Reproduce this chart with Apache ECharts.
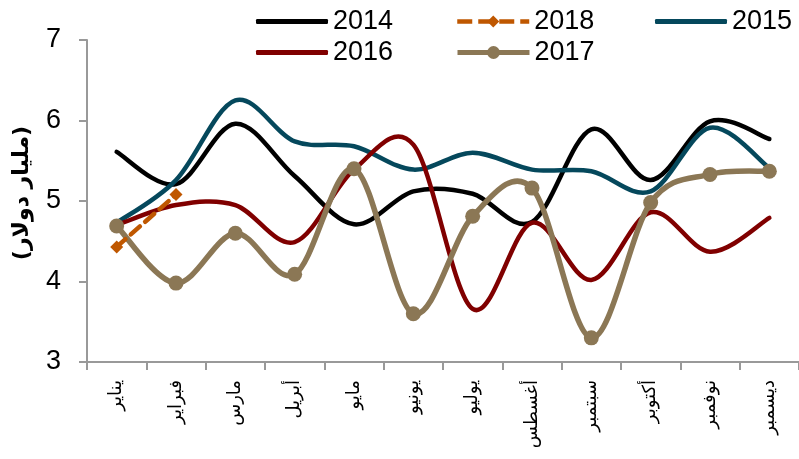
<!DOCTYPE html>
<html>
<head>
<meta charset="utf-8">
<script src="https://cdn.jsdelivr.net/npm/echarts@6/dist/echarts.min.js"></script>
<style>
  html, body { margin: 0; padding: 0; background: #ffffff; }
  #chart { width: 799px; height: 459px; }
</style>
</head>
<body>
<div id="chart"></div>
<script>
// Monthly values, billion dollars
const months = ['يناير', 'فبراير', 'مارس', 'أبريل', 'مايو', 'يونيو', 'يوليو', 'أغسطس', 'سبتمبر', 'أكتوبر', 'نوفمبر', 'ديسمبر'];
const v2014 = [5.61, 5.21, 5.96, 5.31, 4.71, 5.12, 5.09, 4.74, 5.89, 5.26, 5.99, 5.77];
const v2015 = [4.73, 5.26, 6.25, 5.74, 5.68, 5.39, 5.60, 5.39, 5.37, 5.12, 5.91, 5.41];
const v2016 = [4.70, 4.95, 4.95, 4.49, 5.39, 5.70, 3.66, 4.73, 4.02, 4.86, 4.37, 4.79];
const v2017 = [4.69, 3.98, 4.60, 4.09, 5.40, 3.60, 4.81, 5.16, 3.30, 4.98, 5.33, 5.37];
const v2018 = [4.43, 5.08];
const yTicks = [3, 4, 5, 6, 7];

const colors = { '2014': '#000000', '2015': '#05485c', '2016': '#800000', '2017': '#8b7755', '2018': '#bf5700' };

const latin = '"Liberation Sans", Arial, sans-serif';
const arabic = '"DejaVu Sans", sans-serif';

const chart = echarts.init(document.getElementById('chart'), null, { renderer: 'canvas' });

function legendAt(name, left, top, extra) {
  return Object.assign({
    data: [name], left: left, top: top, orient: 'horizontal',
    itemWidth: 72, itemHeight: 5, itemGap: 0, padding: 0,
    textStyle: { fontFamily: latin, fontSize: 27, color: '#000' }
  }, extra || {});
}

// Markers (and legend entries) come from line series whose own stroke is hidden;
// the smoothed stroke is drawn by a custom series using cubic Bezier segments
// with Catmull-Rom style tangents computed in pixel space.
function markerSeries(name, data, extra) {
  return Object.assign({
    name: name, type: 'line', data: data, z: 3,
    symbol: 'none', showSymbol: false,
    lineStyle: { color: colors[name], width: 4.5, opacity: 0 },
    itemStyle: { color: colors[name] },
    emphasis: { disabled: true }, silent: true
  }, extra || {});
}

function curveSeries(name, values, width, dash) {
  return {
    name: name, type: 'custom', coordinateSystem: 'cartesian2d', z: 2, silent: true,
    data: values.map((v, i) => [i, v]),
    encode: { x: 0, y: 1 },
    renderItem: function (params, api) {
      if (params.dataIndex !== 0) return null;
      const pts = values.map((v, i) => api.coord([i, v]));
      let d = 'M' + pts[0][0] + ' ' + pts[0][1];
      for (let i = 0; i < pts.length - 1; i++) {
        const p0 = pts[i - 1] || pts[i];
        const p1 = pts[i];
        const p2 = pts[i + 1];
        const p3 = pts[i + 2] || pts[i + 1];
        const c1x = p1[0] + (p2[0] - p0[0]) / 6, c1y = p1[1] + (p2[1] - p0[1]) / 6;
        const c2x = p2[0] - (p3[0] - p1[0]) / 6, c2y = p2[1] - (p3[1] - p1[1]) / 6;
        d += ' C' + c1x + ' ' + c1y + ' ' + c2x + ' ' + c2y + ' ' + p2[0] + ' ' + p2[1];
      }
      return {
        type: 'path',
        shape: { pathData: d },
        style: {
          fill: 'none', stroke: colors[name], lineWidth: width,
          lineCap: 'round', lineJoin: 'round', lineDash: dash || null
        }
      };
    }
  };
}

chart.setOption({
  animation: false,
  backgroundColor: '#ffffff',
  legend: [
    legendAt('2014', 256, 8, { data: [{ name: '2014', icon: 'roundRect' }] }),
    legendAt('2018', 455, 8, { itemHeight: 15, lineStyle: { width: 4.5, opacity: 1, type: [15, 6] } }),
    legendAt('2015', 655, 8, { data: [{ name: '2015', icon: 'roundRect' }] }),
    legendAt('2016', 256, 39, { data: [{ name: '2016', icon: 'roundRect' }] }),
    legendAt('2017', 455, 39, { itemHeight: 16, lineStyle: { width: 5, opacity: 1 } })
  ],
  grid: { left: 87, right: -8, top: 40, bottom: 97, containLabel: false },
  xAxis: {
    type: 'category', data: months, boundaryGap: true,
    axisLine: { lineStyle: { color: '#999', width: 2 } },
    axisTick: { show: true, length: 8, lineStyle: { color: '#999', width: 2 } },
    axisLabel: { rotate: 90, margin: 18, fontFamily: arabic, fontSize: 18, color: '#000', interval: 0 }
  },
  yAxis: {
    type: 'value', min: yTicks[0], max: yTicks[yTicks.length - 1], interval: 1,
    name: '(مليار دولار)', nameLocation: 'middle', nameGap: 54,
    nameTextStyle: { fontFamily: arabic, fontSize: 22, fontWeight: 'bold', color: '#000', padding: [0, 0, 0, 16] },
    axisLine: { show: true, lineStyle: { color: '#999', width: 2 } },
    axisTick: { show: true, length: 8, lineStyle: { color: '#999', width: 2 } },
    axisLabel: { margin: 26, fontFamily: latin, fontSize: 27, color: '#000' },
    splitLine: { show: false }
  },
  series: [
    markerSeries('2014', v2014),
    markerSeries('2015', v2015),
    markerSeries('2016', v2016),
    markerSeries('2017', v2017, {
      symbol: 'circle', showSymbol: true, symbolSize: 15,
      lineStyle: { color: colors['2017'], width: 5.5, opacity: 0 }
    }),
    markerSeries('2018', v2018, {
      symbol: 'diamond', showSymbol: true, symbolSize: 13,
      lineStyle: { color: colors['2018'], width: 4.5, type: [12, 7], opacity: 0 }
    }),
    curveSeries('2014', v2014, 4.5),
    curveSeries('2015', v2015, 4.5),
    curveSeries('2016', v2016, 4.5),
    curveSeries('2017', v2017, 5.5),
    curveSeries('2018', v2018, 4.5, [12, 7])
  ]
});
</script>
</body>
</html>
